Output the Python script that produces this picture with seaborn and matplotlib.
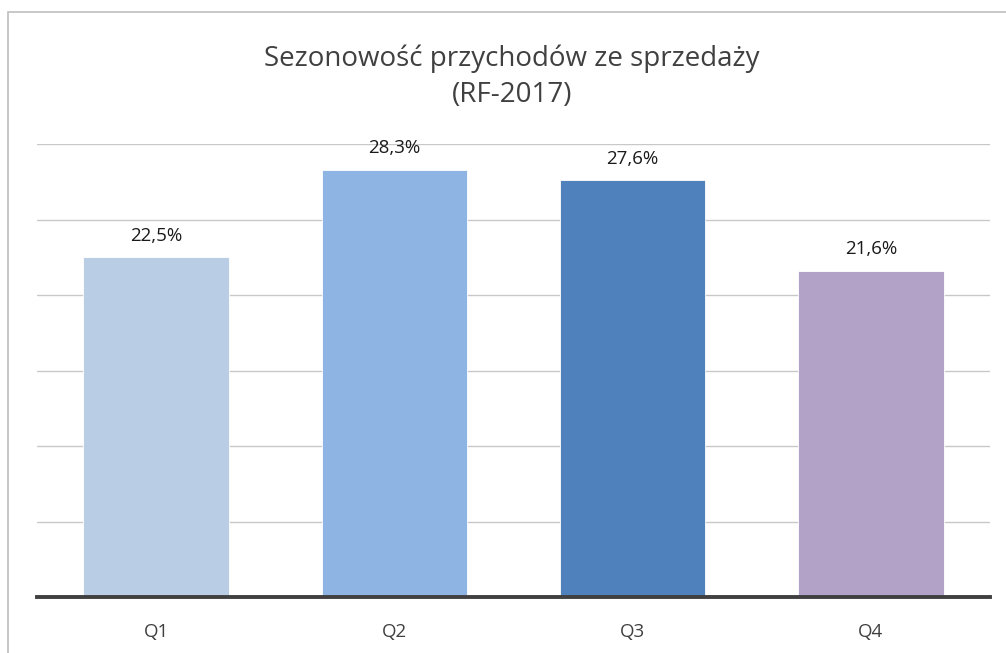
import matplotlib
matplotlib.use("Agg")
import matplotlib.pyplot as plt
import seaborn as sns
import pandas as pd
from matplotlib.patches import Rectangle

categories = ["Q1", "Q2", "Q3", "Q4"]
values = [22.5, 28.3, 27.6, 21.6]
colors = ["#b9cde5", "#8eb4e3", "#4f81bd", "#b3a2c7"]
title = "Sezonowość przychodów ze sprzedaży\n(RF-2017)"

sns.set_theme(style="white")
plt.rcParams['font.family'] = ['Open Sans', 'DejaVu Sans']

df = pd.DataFrame({"q": categories, "v": values})

W, H = 1006, 653
fig = plt.figure(figsize=(W / 100, H / 100), dpi=100)
fig.patch.set_facecolor("white")
# partial outer frame
fig.patches.append(Rectangle((7.5 / W, -0.1), 1.2, 1 - 12.5 / H + 0.1,
                             transform=fig.transFigure, fill=False,
                             edgecolor="#bfbfbf", linewidth=1.2))

ax = fig.add_axes([37 / W, 1 - 597 / H, (990 - 37) / W, (597 - 144) / H])
sns.barplot(data=df, x="q", y="v", hue="q", palette=colors, legend=False,
            width=0.61, ax=ax, edgecolor="white", linewidth=0.6,
            saturation=1)
ax.set_ylim(0, 30)
ax.set_xlim(-0.5, 3.5)
ax.set_yticks([0, 5, 10, 15, 20, 25, 30])
ax.yaxis.grid(True, color="#c8c8c8", linewidth=1)
ax.set_axisbelow(True)
ax.tick_params(axis="y", left=False, labelleft=False)
ax.tick_params(axis="x", bottom=False, labelsize=13.5, colors="#404040", pad=13)
ax.set_xlabel("")
ax.set_ylabel("")
for s in ["top", "right", "left"]:
    ax.spines[s].set_visible(False)
ax.spines["bottom"].set_color("#404040")
ax.spines["bottom"].set_linewidth(2.8)

for i, v in enumerate(values):
    ax.annotate(f"{v:.1f}%".replace(".", ","), (i, v), xytext=(0, 9),
                textcoords="offset points", ha="center", va="bottom",
                fontsize=13.5, color="#1a1a1a")

fig.text(512 / W, 1 - 77 / H, title, ha="center", va="center",
         fontsize=20, color="#404040", linespacing=1.4)

fig.savefig("out.png", dpi=100)
